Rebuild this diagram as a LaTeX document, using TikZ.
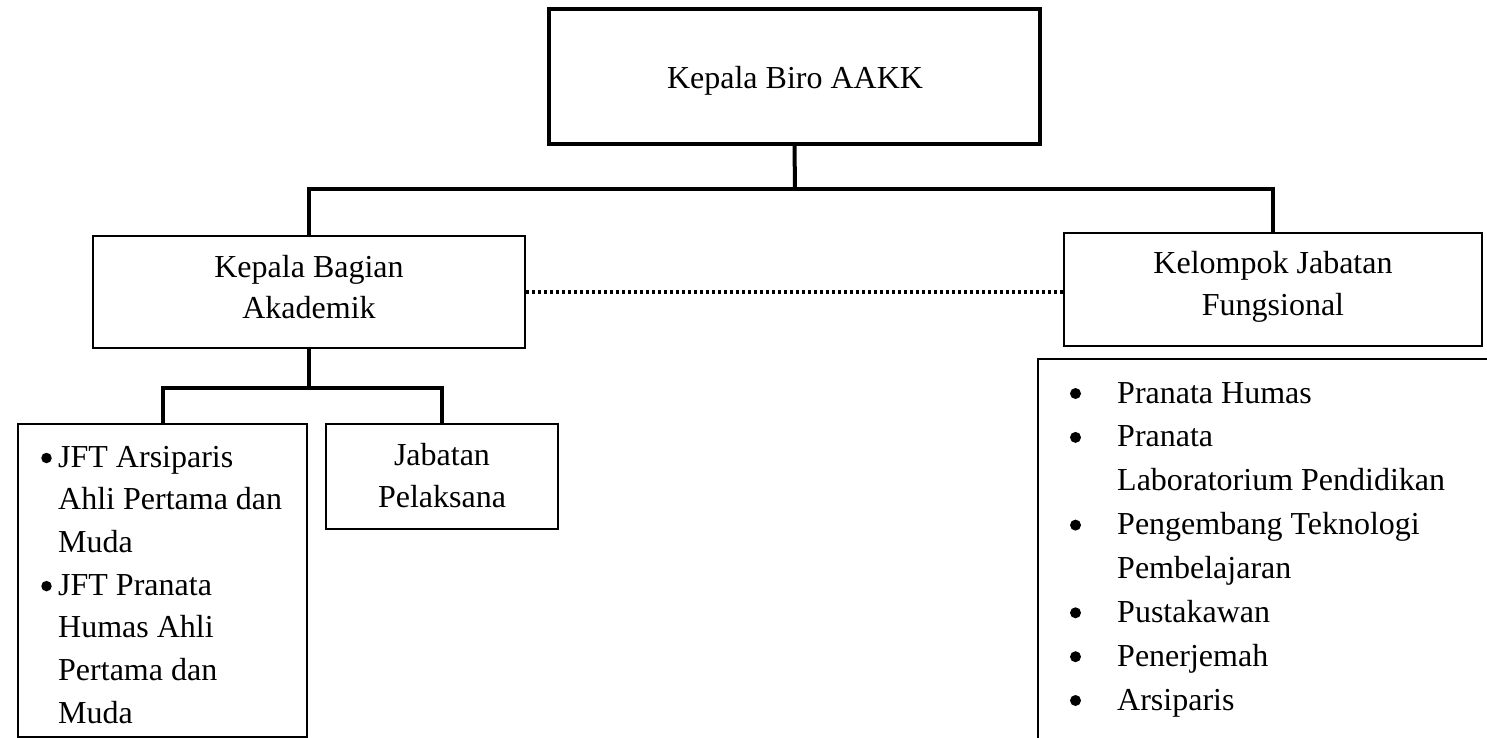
\documentclass[tikz,border=0pt]{standalone}
\usepackage{fontspec}
\setmainfont{Liberation Serif}
\begin{document}
\begin{tikzpicture}[x=1pt,y=-1pt,
  txt/.style={inner sep=0pt,font=\fontsize{32}{42}\selectfont},
  bul/.style={circle,fill=black,inner sep=0pt,minimum size=11pt},
  thickbox/.style={draw,line width=4pt,inner sep=0pt},
  thinbox/.style={draw,line width=2.2pt,inner sep=0pt},
  conn/.style={line width=4pt},
  dots/.style={line width=3.5pt,dash pattern=on 3pt off 3pt}]
\clip (0,0) rectangle (1487,738);
% boxes
\node[thickbox,minimum width=491pt,minimum height=135pt] (top) at (794.5,76.5) {};
\node[thinbox,minimum width=432pt,minimum height=112pt] (kba) at (309,292) {};
\node[thinbox,minimum width=418pt,minimum height=113pt] (kjf) at (1273,289.5) {};
\node[thinbox,minimum width=289pt,minimum height=313pt] (jft) at (162.5,580.5) {};
\node[thinbox,minimum width=232pt,minimum height=105pt] (jp) at (442,476.5) {};
\node[thinbox,minimum width=482pt,minimum height=411pt] (list) at (1279,564.5) {};
% connectors
\coordinate (bus1) at (795,189);
\coordinate (bus2) at (309,388);
\draw[conn] (top.south) -- (bus1);
\draw[conn] (kba.north) |- (bus1) -| (kjf.north);
\draw[conn] (kba.south) -- (bus2);
\draw[conn] (jft.north) |- (bus2) -| (jp.north);
\draw[dots] (kba.east) -- (kba.east -| kjf.west);
% texts
\node[txt,anchor=base] (t0) at (795,89) {Kepala Biro AAKK};
\node[txt,anchor=base] (t1a) at (309,277) {Kepala Bagian};
\node[txt,anchor=base] (t1b) at (309,318) {Akademik};
\node[txt,anchor=base] (t2a) at (1273,273) {Kelompok Jabatan};
\node[txt,anchor=base] (t2b) at (1273,315) {Fungsional};
\node[txt,anchor=base] (t3a) at (442,465) {Jabatan};
\node[txt,anchor=base] (t3b) at (442,507) {Pelaksana};
% left list
\node[bul,minimum size=10.5pt] (lb1) at (46.5,458) {};
\node[bul,minimum size=10.5pt] (lb2) at (46.5,586.1) {};
\node[txt,anchor=base west] (l1) at (58,467) {JFT Arsiparis};
\node[txt,anchor=base west] (l2) at (58,509.7) {Ahli Pertama dan};
\node[txt,anchor=base west] (l3) at (58,552.4) {Muda};
\node[txt,anchor=base west] (l4) at (58,595.1) {JFT Pranata};
\node[txt,anchor=base west] (l5) at (58,637.8) {Humas Ahli};
\node[txt,anchor=base west] (l6) at (58,680.5) {Pertama dan};
\node[txt,anchor=base west] (l7) at (58,723.2) {Muda};
% right list
\node[bul] (rb1) at (1075.5,393.5) {};
\node[bul] (rb2) at (1075.5,437.4) {};
\node[bul] (rb3) at (1075.5,525.1) {};
\node[bul] (rb4) at (1075.5,612.8) {};
\node[bul] (rb5) at (1075.5,656.7) {};
\node[bul] (rb6) at (1075.5,700.5) {};
\node[txt,anchor=base west] (r1) at (1117,403) {Pranata Humas};
\node[txt,anchor=base west] (r2) at (1117,446.9) {Pranata};
\node[txt,anchor=base west] (r3) at (1117,490.7) {Laboratorium Pendidikan};
\node[txt,anchor=base west] (r4) at (1117,534.6) {Pengembang Teknologi};
\node[txt,anchor=base west] (r5) at (1117,578.4) {Pembelajaran};
\node[txt,anchor=base west] (r6) at (1117,622.3) {Pustakawan};
\node[txt,anchor=base west] (r7) at (1117,666.2) {Penerjemah};
\node[txt,anchor=base west] (r8) at (1117,710) {Arsiparis};
\end{tikzpicture}
\end{document}
